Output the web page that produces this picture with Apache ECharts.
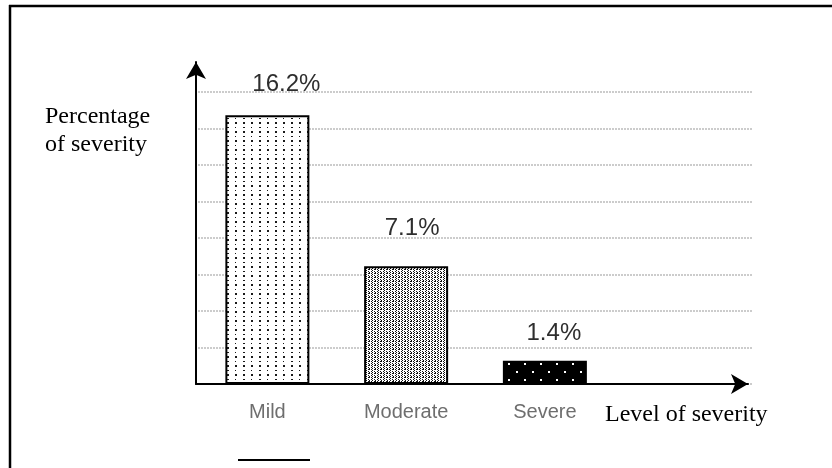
<!DOCTYPE html>
<html>
<head>
<meta charset="utf-8">
<script src="https://cdn.jsdelivr.net/npm/echarts@6/dist/echarts.min.js"></script>
<style>
  html, body { margin: 0; padding: 0; background: #fff; }
  #chart { width: 832px; height: 468px; }
</style>
</head>
<body>
<div id="chart"></div>
<script>
// Severity levels and their share of cases (%)
const categories = ['Mild', 'Moderate', 'Severe'];
const severityPct = [16.2, 7.1, 1.4];
const valueLabels = ['16.2%', '7.1%', '1.4%'];
const yTitleLines = ['Percentage', 'of severity'];
const xTitle = 'Level of severity';

// Spare empty band so the category axis runs on past the last bar
const axisCategories = categories.concat(['']);

const sans = "'Liberation Sans', Arial, sans-serif";
const serif = "'Liberation Serif', 'Times New Roman', serif";

// Small canvas tiles used as hatch fills for the bars
function tile(w, h, bg, fg, dots) {
  const c = document.createElement('canvas');
  c.width = w; c.height = h;
  const g = c.getContext('2d');
  g.fillStyle = bg; g.fillRect(0, 0, w, h);
  g.fillStyle = fg;
  dots.forEach(d => g.fillRect(d[0], d[1], d[2], d[3]));
  return c;
}
const sparseDots = tile(16, 9, '#ffffff', '#1a1a1a',
  [[3, 1, 2, 1], [11, 1, 1, 1], [3, 5, 2, 2], [11, 5, 2, 2]]);
const denseDots = tile(6, 4, '#ffffff', '#111111',
  [[0, 0, 1, 1], [0, 2, 1, 1], [2, 1, 1, 1], [2, 3, 1, 1], [3, 0, 1, 2], [5, 1, 1, 1], [5, 3, 1, 1]]);
const darkDots = tile(16, 16, '#000000', '#ffffff',
  [[4, 3, 2, 2], [12, 11, 2, 2]]);
const barFills = [sparseDots, denseDots, darkDots];

// Fine placement of each value label relative to its bar
const labelNudge = [[19, 0], [6, -7], [9, 4]];

const chart = echarts.init(document.getElementById('chart'), null, { renderer: 'canvas' });

const arrowAxisLine = {
  show: true,
  onZero: false,
  symbol: ['none', 'arrow'],
  symbolSize: [15, 17],
  lineStyle: { color: '#000', width: 2 }
};

const option = {
  animation: false,
  backgroundColor: '#fff',
  grid: [
    { left: 198, right: 79, top: 92, bottom: 84 },
    { left: 196, right: 84, top: 62, bottom: 84 }
  ],
  xAxis: [
    {
      type: 'category', gridIndex: 0, data: axisCategories,
      axisLine: { show: false }, axisTick: { show: false },
      axisLabel: { color: '#6e6e6e', fontFamily: sans, fontSize: 20, margin: 18 },
      splitLine: { show: false }
    },
    {
      type: 'value', gridIndex: 1, min: 0, max: 1,
      axisLine: arrowAxisLine, axisTick: { show: false },
      axisLabel: { show: false }, splitLine: { show: false }
    }
  ],
  yAxis: [
    {
      type: 'value', gridIndex: 0, min: 0, max: 17.6, interval: 2.2,
      axisLine: { show: false }, axisTick: { show: false }, axisLabel: { show: false },
      splitLine: { lineStyle: { color: '#cccccc', width: 2, type: [2, 1] } }
    },
    {
      type: 'value', gridIndex: 1, min: 0, max: 1,
      axisLine: arrowAxisLine, axisTick: { show: false },
      axisLabel: { show: false }, splitLine: { show: false }
    }
  ],
  series: [{
    type: 'bar',
    xAxisIndex: 0, yAxisIndex: 0,
    barWidth: 84,
    data: severityPct.map((v, i) => ({
      value: v,
      itemStyle: {
        color: { image: barFills[i], repeat: 'repeat' },
        borderColor: '#000', borderWidth: 2
      },
      label: { offset: labelNudge[i] }
    })),
    label: {
      show: true, position: 'top', distance: 19,
      formatter: p => valueLabels[p.dataIndex],
      color: '#2e2e2e', fontFamily: sans, fontSize: 24
    }
  }],
  graphic: [
    { type: 'line', shape: { x1: 9, y1: 6, x2: 832, y2: 6 }, style: { stroke: '#000', lineWidth: 2.5 } },
    { type: 'line', shape: { x1: 10, y1: 5, x2: 10, y2: 468 }, style: { stroke: '#000', lineWidth: 2.5 } },
    { type: 'line', shape: { x1: 238, y1: 460, x2: 310, y2: 460 }, style: { stroke: '#000', lineWidth: 2 } },
    { type: 'text', left: 45, top: 105, style: { text: yTitleLines[0], font: '24px ' + serif, fill: '#000' } },
    { type: 'text', left: 45, top: 133, style: { text: yTitleLines[1], font: '24px ' + serif, fill: '#000' } },
    { type: 'text', left: 605, top: 403, style: { text: xTitle, font: '24px ' + serif, fill: '#000' } }
  ]
};

chart.setOption(option);
</script>
</body>
</html>
